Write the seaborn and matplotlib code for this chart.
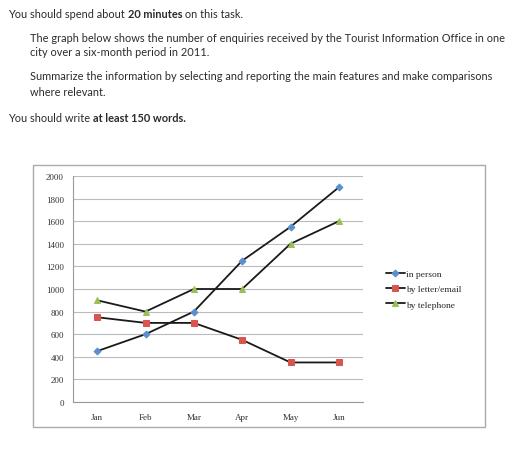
import matplotlib
matplotlib.use("Agg")
import matplotlib.pyplot as plt
import seaborn as sns
import pandas as pd
from matplotlib.patches import Rectangle

months = ["Jan", "Feb", "Mar", "Apr", "May", "Jun"]
in_person = [450, 600, 800, 1250, 1550, 1900]
letter_email = [750, 700, 700, 550, 350, 350]
telephone = [900, 800, 1000, 1000, 1400, 1600]
series_names = ["in person", "by letter/email", "by telephone"]

sns.set_style("white")
plt.rcParams['font.family'] = ['Lato', 'DejaVu Sans']

df = pd.DataFrame({"month": months * 3,
                   "value": in_person + letter_email + telephone,
                   "series": sum([[s] * 6 for s in series_names], [])})
df["x"] = list(range(6)) * 3

fig = plt.figure(figsize=(5.12, 4.52), dpi=100)
fig.patch.set_facecolor("white")

# chart box
box = Rectangle((33/512, 1-428/452), 452/512, 262/452, transform=fig.transFigure,
                facecolor="white", edgecolor="#aaaaaa", lw=1.0, zorder=-5)
fig.add_artist(box)

ax = fig.add_axes([73/512, 1-403/452, 290/512, 226/452])
ax.set_zorder(5)
ax.patch.set_alpha(0)
markers = {"in person": "D", "by letter/email": "s", "by telephone": "^"}
mcolors = {"in person": "#5b8fd0", "by letter/email": "#d95550", "by telephone": "#9cbf55"}
msize = {"in person": 3.5, "by letter/email": 5, "by telephone": 5}
for s in series_names:
    d = df[df.series == s]
    sns.lineplot(data=d, x="x", y="value", ax=ax, color="#1a1a1a", lw=1.3,
                 marker=markers[s], markersize=msize[s], markerfacecolor=mcolors[s],
                 markeredgecolor=mcolors[s], label=s)
ax.set_xlim(-0.5, 5.5)
ax.set_ylim(0, 2000)
ax.set_yticks(range(0, 2001, 200))
ax.set_xticks(range(6))
ax.set_xticklabels(months)
ax.set_xlabel("")
ax.set_ylabel("")
ax.grid(axis="y", color="#bbbbbb", lw=0.8)
for sp in ["top", "right"]:
    ax.spines[sp].set_visible(False)
ax.spines["left"].set_color("#999999")
ax.spines["bottom"].set_color("#999999")
serif = ['Liberation Serif', 'DejaVu Serif']
for lab in ax.get_xticklabels() + ax.get_yticklabels():
    lab.set_family(serif)
    lab.set_fontsize(6.5)
    lab.set_color("#333333")
ax.tick_params(axis="x", pad=8, length=0)
ax.tick_params(axis="y", length=3, color="#999999")
leg = ax.legend(loc="center left", bbox_to_anchor=(1.05, 0.5), frameon=False,
                prop={"family": serif, "size": 6.8}, handlelength=2.0,
                handletextpad=0.1, labelspacing=0.7)

# header text
fs = 7.9
col = "#2b2b2b"
renderer = fig.canvas.get_renderer()

def runs(x_px, y_px, parts):
    x = x_px / 512
    for txt, bold in parts:
        t = fig.text(x, 1 - y_px / 452, txt, fontsize=fs, color=col, va="center",
                     fontweight="bold" if bold else "normal")
        bb = t.get_window_extent(renderer=renderer)
        x += bb.width / fig.bbox.width

runs(8, 14, [("You should spend about ", False), ("20 minutes", True), (" on this task.", False)])
runs(30, 38, [("The graph below shows the number of enquiries received by the Tourist Information Office in one", False)])
runs(30, 53, [("city over a six-month period in 2011.", False)])
runs(30, 77, [("Summarize the information by selecting and reporting the main features and make comparisons", False)])
runs(30, 93, [("where relevant.", False)])
runs(8, 118, [("You should write ", False), ("at least 150 words.", True)])

fig.savefig("out.png", dpi=100)
